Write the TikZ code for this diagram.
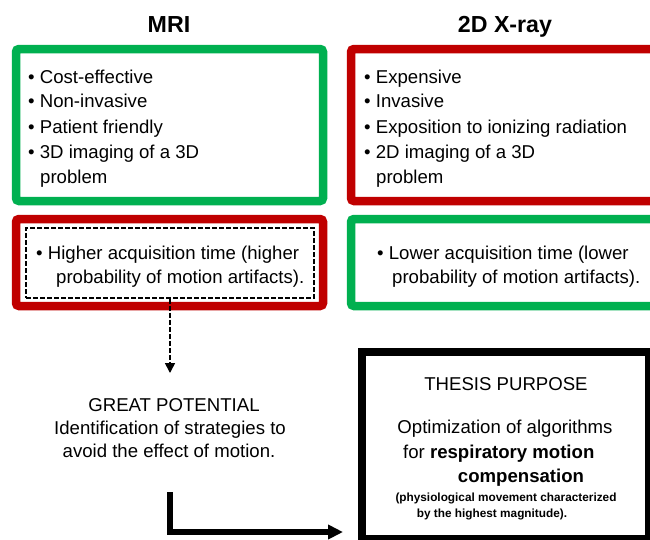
\documentclass[tikz,border=0pt]{standalone}
\usepackage{fontspec}
\setmainfont{Liberation Sans}
\usetikzlibrary{arrows.meta}
\definecolor{boxgreen}{HTML}{00B050}
\definecolor{boxred}{HTML}{C00000}
\begin{document}
\begin{tikzpicture}[x=1pt,y=-1pt,
  frame/.style={draw=#1, line width=8.5pt, rounded corners=3pt, inner sep=0pt},
  ltxt/.style={anchor=base west, inner sep=0pt, font=\fontsize{18.6}{22}\selectfont},
  ctxt/.style={anchor=base, inner sep=0pt, font=\fontsize{18.6}{22}\selectfont},
  small/.style={anchor=base, inner sep=0pt, font=\fontsize{11.8}{14}\selectfont\bfseries},
  title/.style={anchor=base, inner sep=0pt, font=\fontsize{23.2}{26}\selectfont\bfseries}]
\useasboundingbox (0,0) rectangle (650,539);
\clip (0,0) rectangle (650,539);
\fill[white] (0,0) rectangle (650,539);

% titles
\node[title] (tmri) at (169,32) {MRI};
\node[title] (txray) at (505,32) {2D X-ray};

% boxes
\node[frame=boxgreen, minimum width=307pt, minimum height=152pt] (mripro) at (169.5,125) {};
\node[frame=boxred, minimum width=307pt, minimum height=87pt] (mricon) at (169.5,262.5) {};
\node[frame=boxred, minimum width=319pt, minimum height=152pt] (xraycon) at (510.5,125) {};
\node[frame=boxgreen, minimum width=319pt, minimum height=87pt] (xraypro) at (510.5,262.5) {};
\node[draw=black, line width=1.6pt, dash pattern=on 5pt off 2pt, minimum width=288pt, minimum height=70pt, inner sep=0pt] (dashbox) at (170,263) {};
\node[draw=black, line width=8.5pt, minimum width=287pt, minimum height=187pt, inner sep=0pt] (thesis) at (505.5,445.5) {};

% MRI advantages
\node[ltxt] (m1) at (28,83) {\textbullet\ Cost-effective};
\node[ltxt] (m2) at (28,107) {\textbullet\ Non-invasive};
\node[ltxt] (m3) at (28,133) {\textbullet\ Patient friendly};
\node[ltxt] (m4) at (28,158) {\textbullet\ 3D imaging of a 3D};
\node[ltxt] (m5) at (40,183) {problem};
% MRI disadvantage
\node[ltxt] (m6) at (36,259) {\textbullet\ Higher acquisition time (higher};
\node[ltxt] (m7) at (56,283) {probability of motion artifacts).};

% X-ray disadvantages
\node[ltxt] (x1) at (364,83) {\textbullet\ Expensive};
\node[ltxt] (x2) at (364,107) {\textbullet\ Invasive};
\node[ltxt] (x3) at (364,133) {\textbullet\ Exposition to ionizing radiation};
\node[ltxt] (x4) at (364,158) {\textbullet\ 2D imaging of a 3D};
\node[ltxt] (x5) at (376,183) {problem};
% X-ray advantage
\node[ltxt] (x6) at (377,259) {\textbullet\ Lower acquisition time (lower};
\node[ltxt] (x7) at (392,283) {probability of motion artifacts).};

% great potential
\node[ctxt] (gp1) at (174,411) {GREAT POTENTIAL};
\node[ctxt] (gp2) at (170,434) {Identification of strategies to};
\node[ctxt] (gp3) at (169,457) {avoid the effect of motion.};

% thesis purpose
\node[ctxt] (th1) at (506,390) {THESIS PURPOSE};
\node[ctxt] (th2) at (505,433) {Optimization of algorithms};
\node[ltxt] (th3) at (403,458) {for \textbf{respiratory motion}};
\node[ctxt, font=\fontsize{18.6}{22}\selectfont\bfseries] (th4) at (521,482) {compensation};
\node[small] (th5) at (506,501) {(physiological movement characterized};
\node[small] (th6) at (492,517) {by the highest magnitude).};

% connectors
\coordinate (gptip) at (170,373);
\draw[line width=1.6pt, dash pattern=on 5pt off 2pt, -{Triangle[length=10pt,width=10pt]}] (dashbox.south) -- (gptip);
\coordinate (lstart) at (170,492);
\coordinate (ltip) at (343,532);
\draw[line width=6pt, -{Triangle[length=15pt,width=14pt]}] (lstart) |- (ltip);
\end{tikzpicture}
\end{document}
